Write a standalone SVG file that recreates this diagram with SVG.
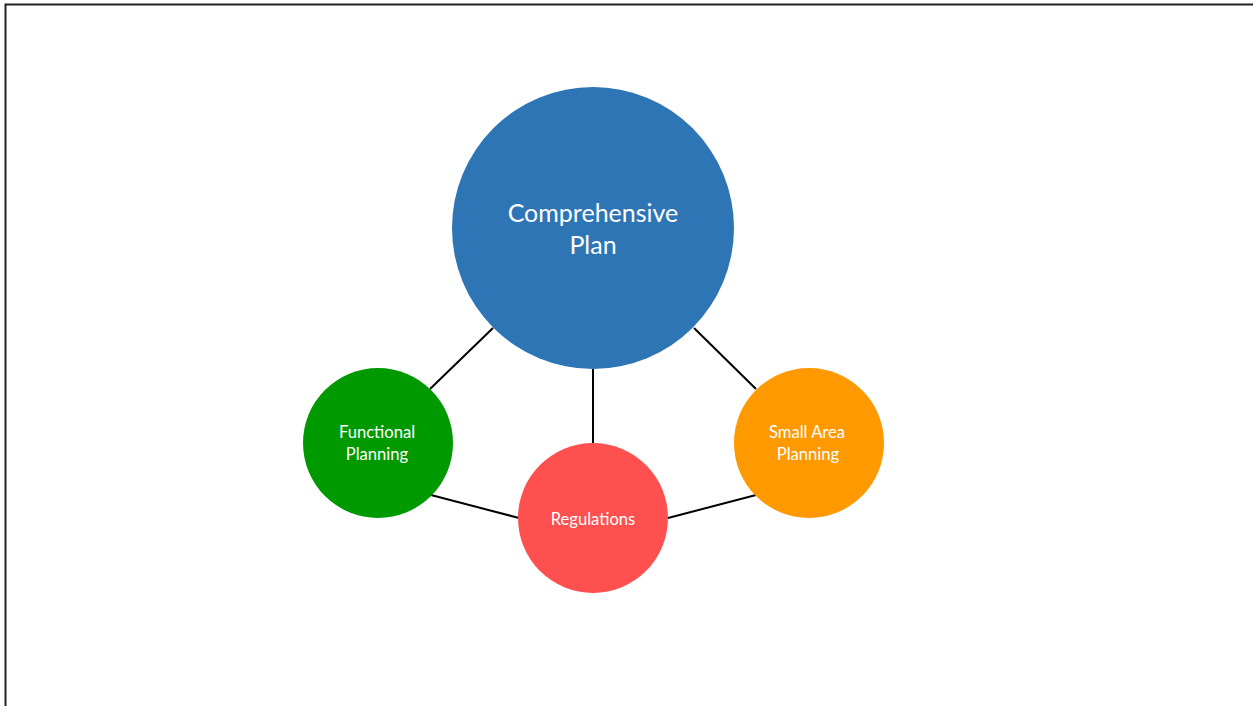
<svg xmlns="http://www.w3.org/2000/svg" width="1253" height="706" viewBox="0 0 1253 706">
<style>
.lbl{font-family:Lato,"Open Sans","Liberation Sans",sans-serif;fill:#ffffff;text-anchor:middle}
.big{font-size:25px}
.sm{font-size:16.6px}
.edge{stroke:#000000;stroke-width:2;fill:none}
</style>
<rect x="0" y="0" width="1253" height="706" fill="#ffffff"/>
<path d="M5.5,706 V4.5 H1253" fill="none" stroke="#222222" stroke-width="2"/>
<g id="connectors">
<line class="edge" x1="493" y1="328" x2="430" y2="389"/>
<line class="edge" x1="694" y1="328" x2="756" y2="389"/>
<line class="edge" x1="593" y1="369" x2="593" y2="444"/>
<line class="edge" x1="431" y1="495" x2="519" y2="518"/>
<line class="edge" x1="668" y1="518" x2="756" y2="495"/>
</g>
<g id="comprehensive-plan">
<circle cx="593" cy="228" r="141" fill="#2E75B6"/>
<text class="lbl big" x="593" y="222">Comprehensive</text>
<text class="lbl big" x="593" y="254">Plan</text>
</g>
<g id="functional-planning">
<circle cx="378" cy="443" r="75" fill="#009900"/>
<text class="lbl sm" x="377" y="438">Functional</text>
<text class="lbl sm" x="377" y="460">Planning</text>
</g>
<g id="regulations">
<circle cx="593" cy="518" r="75" fill="#FF5050"/>
<text class="lbl sm" x="593" y="525">Regulations</text>
</g>
<g id="small-area-planning">
<circle cx="809" cy="443" r="75" fill="#FF9900"/>
<text class="lbl sm" x="807" y="438">Small Area</text>
<text class="lbl sm" x="808" y="460">Planning</text>
</g>
</svg>
